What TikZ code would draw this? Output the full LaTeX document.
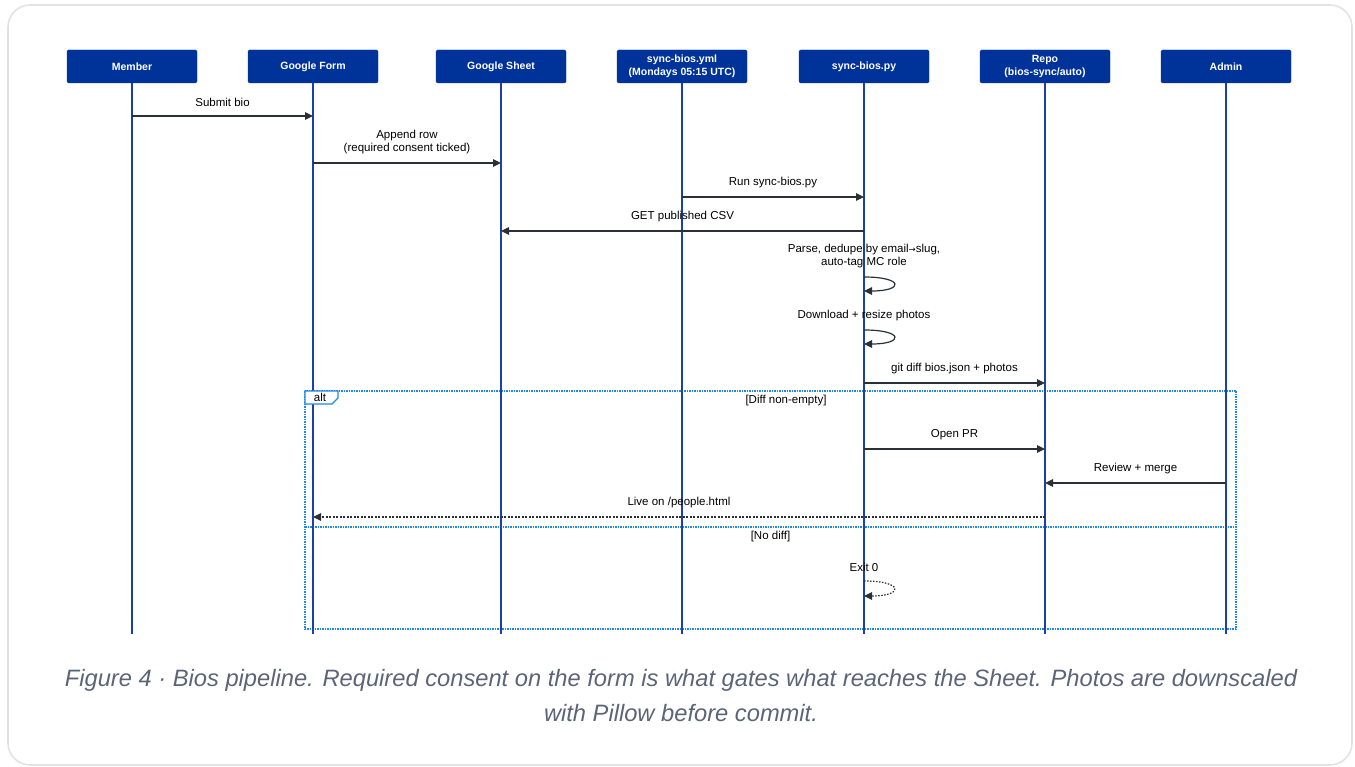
\documentclass[tikz,border=0pt]{standalone}
\usepackage{fontspec}
\setmainfont{Liberation Sans}
\usetikzlibrary{arrows.meta,positioning}
\definecolor{actorblue}{HTML}{003399}
\definecolor{lifeblue}{HTML}{1A40B0}
\definecolor{framblue}{HTML}{1E88E5}
\definecolor{msggray}{HTML}{2B2F36}
\definecolor{capgray}{HTML}{5B6478}
\definecolor{cardgray}{HTML}{E2E2E2}
\tikzset{
  actor/.style={fill=actorblue, draw=actorblue, rounded corners=1.5pt, minimum width=130pt, minimum height=33pt, text=white, font=\fontsize{10.5}{12.5}\selectfont\bfseries, align=center, inner sep=1pt},
  lifeline/.style={draw=lifeblue, line width=1.25pt},
  msg/.style={draw=msggray, line width=1.2pt, -{Triangle[length=8pt,width=7.5pt]}},
  reply/.style={msg, dash pattern=on 2pt off 1.5pt},
  lbl/.style={font=\fontsize{11.5}{13}\selectfont, text=black, inner sep=0pt, align=center},
  altframe/.style={draw=framblue, line width=1.1pt, dash pattern=on 1.5pt off 1pt},
  tagbox/.style={draw=framblue, line width=1.1pt, fill=white},
}
\begin{document}
\begin{tikzpicture}[x=1pt,y=-1pt]
\useasboundingbox (0,0) rectangle (1355,767);
\draw[cardgray, line width=1.6pt, rounded corners=22pt] (8,5) rectangle (1352,765);

% actors
\node[actor] (member) at (132,66.5) {Member};
\node[actor] (form) at (313,66.5) {Google Form};
\node[actor] (sheet) at (501,66.5) {Google Sheet};
\node[actor] (yml) at (682,66.5) {sync-bios.yml\\(Mondays 05:15 UTC)};
\node[actor] (py) at (864,66.5) {sync-bios.py};
\node[actor] (repo) at (1045,66.5) {Repo\\(bios-sync/auto)};
\node[actor] (admin) at (1226,66.5) {Admin};

% alt frame
\coordinate (fa) at (305,391);
\coordinate (fb) at (1236,629);
\draw[altframe] (fa) rectangle (fb);
\draw[altframe] (305,527) -- (1236,527);

% lifelines
\foreach \a in {member,form,sheet,yml,py,repo,admin}{
  \coordinate (\a-end) at (\a |- 0,634);
  \draw[lifeline] (\a.south) -- (\a-end);
}

% alt tag
\draw[tagbox] (305,391) -- (338,391) -- (338,398) -- (332,404) -- (305,404) -- cycle;
\node[lbl] (alttag) at (320,397.5) {alt};
\node[lbl] (g1) at (786,401) {[Diff non-empty]};
\node[lbl] (g2) at (770.5,537) {[No diff]};

% messages
\draw[msg] (member |- 0,116) -- (form |- 0,116) node[lbl, midway, above=9pt] {Submit bio};
\draw[msg] (form |- 0,163) -- (sheet |- 0,163) node[lbl, midway, above=9pt] {Append row\\(required consent ticked)};
\draw[msg] (yml |- 0,197) -- (py |- 0,197) node[lbl, midway, above=9pt] {Run sync-bios.py};
\draw[msg] (py |- 0,231) -- (sheet |- 0,231) node[lbl, midway, above=9pt] {GET published CSV};

\node[lbl] (parse) at (864,256.5) {Parse, dedupe by email{\fontspec{DejaVu Sans}\fontsize{8.5}{10}\selectfont→}slug,\\auto-tag MC role};
\draw[msg] (py |- 0,277) .. controls +(40,0) and +(40,0) .. (py |- 0,291);

\node[lbl] (dl) at (864,316) {Download + resize photos};
\draw[msg] (py |- 0,330) .. controls +(40,0) and +(40,0) .. (py |- 0,344);

\draw[msg] (py |- 0,383) -- (repo |- 0,383) node[lbl, midway, above=9pt] {git diff bios.json + photos};
\draw[msg] (py |- 0,449) -- (repo |- 0,449) node[lbl, midway, above=9pt] {Open PR};
\draw[msg] (admin |- 0,483) -- (repo |- 0,483) node[lbl, midway, above=9pt] {Review + merge};
\draw[reply] (repo |- 0,517) -- (form |- 0,517) node[lbl, midway, above=9pt] {Live on /people.html};

\node[lbl] (exit) at (864,567) {Exit 0};
\draw[reply, dash pattern=on 1.5pt off 1.5pt] (py |- 0,581) .. controls +(40,0) and +(40,0) .. (py |- 0,596);

% caption
\node[text=capgray, font=\fontsize{23.7}{35}\selectfont\itshape, align=center, inner sep=0pt] (cap) at (681,695.5)
  {Figure 4 · Bios pipeline. Required consent on the form is what gates what reaches the Sheet. Photos are downscaled\\with Pillow before commit.};
\end{tikzpicture}
\end{document}
